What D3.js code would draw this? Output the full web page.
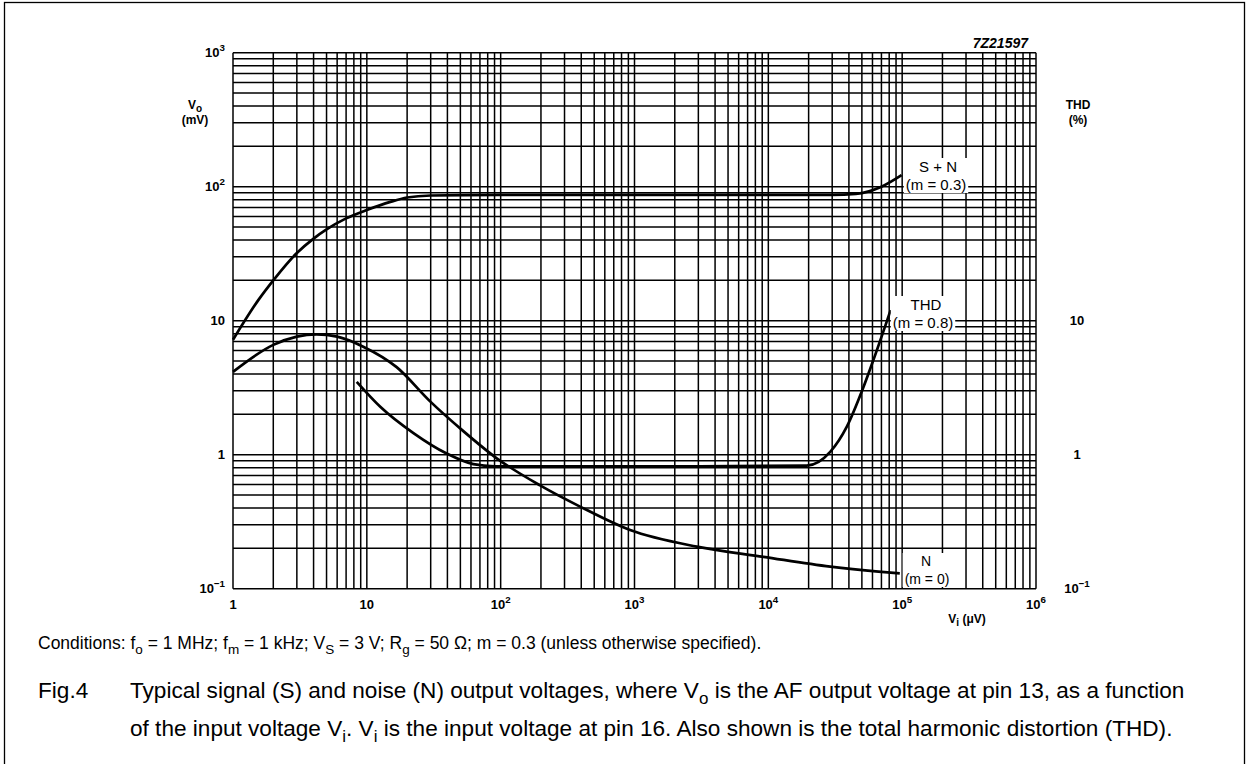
<!DOCTYPE html>
<html>
<head>
<meta charset="utf-8">
<script src="https://cdn.jsdelivr.net/npm/d3@7"></script>
<style>
  body { margin: 0; background: #fff; }
  svg text { font-family: "Liberation Sans", Arial, Helvetica, sans-serif; fill: #000; }
</style>
</head>
<body>
<script>
// axis ranges
const viDomain = [1, 1e6];
const voDomain = [0.1, 1000];

// tick labels: [base, exponent]
const xTickValues = [1, 10, 100, 1e3, 1e4, 1e5, 1e6];
const xTickLabels = [["1", ""], ["10", ""], ["10", "2"], ["10", "3"], ["10", "4"], ["10", "5"], ["10", "6"]];
const yTickValues = [0.1, 1, 10, 100, 1000];
const yTickLabels = [["10", "\u22121"], ["1", ""], ["10", ""], ["10", "2"], ["10", "3"]];
const thdTickValues = [0.1, 1, 10];
const thdTickLabels = [["10", "\u22121"], ["1", ""], ["10", ""]];

// curves: [Vi (uV), Vo (mV) or THD (%)]
const sPlusN = [
  [1, 7.2], [1.55, 14.3], [2, 20], [3, 32], [4, 41], [5, 48], [7, 58], [10, 67],
  [15, 77], [20, 83], [30, 86], [100, 87], [1000, 87], [1e4, 87], [3e4, 87],
  [45000, 88.5], [70000, 100], [99000, 122]
];
const noise = [
  [1, 4.15], [2, 6.6], [3, 7.6], [4.2, 7.9], [6, 7.6], [9.4, 6.4], [16.7, 4.5],
  [29.7, 2.5], [52.6, 1.5], [93.5, 0.94], [197, 0.59], [392, 0.41], [927, 0.274],
  [2920, 0.206], [9200, 0.173], [29000, 0.146], [66500, 0.134], [96000, 0.13]
];
const thd = [
  [8.4, 3.5], [12.6, 2.28], [22.3, 1.45], [39.5, 1.02], [62.5, 0.85], [90, 0.82],
  [300, 0.82], [3000, 0.82], [19400, 0.83], [29000, 1.05], [38600, 1.62],
  [51400, 3.2], [61000, 5.1], [82000, 12]
];

const curveLabels = [
  { lines: ["S + N", "(m = 0.3)"], at: [[938, 172], [936, 190]], size: 15 },
  { lines: ["THD", "(m = 0.8)"], at: [[926, 310], [923, 328]], size: 15 },
  { lines: ["N", "(m = 0)"], at: [[926, 566], [927, 584]], size: 14 }
];

const w = 1247;
const h = 764;
const mLeft = 233;
const mRight = 1036;
const mTop = 52.7;
const mBottom = 588.7;

const svg = d3
  .select("body")
  .append("svg")
  .attr("width", w)
  .attr("height", h);

// outer frame, runs off the bottom of the page
svg
  .append("rect")
  .attr("x", 4.5)
  .attr("y", 2.5)
  .attr("width", w - 7)
  .attr("height", h + 40)
  .attr("fill", "none")
  .attr("stroke", "#000")
  .attr("stroke-width", 1.3);

const xScale = d3.scaleLog().domain(viDomain).range([mLeft, mRight]);
const yScale = d3.scaleLog().domain(voDomain).range([mBottom, mTop]);

// log grid, 1..9 in every decade
const grid = svg.append("g").attr("stroke", "#000").attr("stroke-width", 1.5);

grid
  .selectAll("line.v")
  .data(xScale.ticks(40))
  .enter()
  .append("line")
  .attr("class", "v")
  .attr("x1", (d) => xScale(d))
  .attr("x2", (d) => xScale(d))
  .attr("y1", mTop)
  .attr("y2", mBottom);

grid
  .selectAll("line.h")
  .data(yScale.ticks(30))
  .enter()
  .append("line")
  .attr("class", "h")
  .attr("x1", mLeft)
  .attr("x2", mRight)
  .attr("y1", (d) => yScale(d))
  .attr("y2", (d) => yScale(d));

const powLabel = (sel, size) => {
  sel.append("tspan").text((d) => d[0]);
  sel
    .append("tspan")
    .attr("dy", -size * 0.45)
    .attr("font-size", size * 0.75)
    .text((d) => d[1]);
};

// x tick labels
svg
  .append("g")
  .selectAll("text")
  .data(xTickLabels)
  .enter()
  .append("text")
  .attr("x", (d, i) => xScale(xTickValues[i]))
  .attr("y", mBottom + 20)
  .attr("text-anchor", "middle")
  .attr("font-size", 13)
  .attr("font-weight", "bold")
  .call(powLabel, 13);

// left y tick labels
svg
  .append("g")
  .selectAll("text")
  .data(yTickLabels)
  .enter()
  .append("text")
  .attr("x", mLeft - 8)
  .attr("y", (d, i) => yScale(yTickValues[i]) + 4.5)
  .attr("text-anchor", "end")
  .attr("font-size", 13)
  .attr("font-weight", "bold")
  .call(powLabel, 13);

// right THD tick labels
svg
  .append("g")
  .selectAll("text")
  .data(thdTickLabels)
  .enter()
  .append("text")
  .attr("x", mRight + 41)
  .attr("y", (d, i) => yScale(thdTickValues[i]) + 4.5)
  .attr("text-anchor", "middle")
  .attr("font-size", 13)
  .attr("font-weight", "bold")
  .call(powLabel, 13);

// axis titles
const vo = svg
  .append("text")
  .attr("x", 195)
  .attr("y", 109)
  .attr("text-anchor", "middle")
  .attr("font-size", 12)
  .attr("font-weight", "bold");
vo.append("tspan").text("V");
vo.append("tspan").attr("font-size", 10).attr("dy", 3).text("o");
svg
  .append("text")
  .attr("x", 195)
  .attr("y", 124)
  .attr("text-anchor", "middle")
  .attr("font-size", 12)
  .attr("font-weight", "bold")
  .text("(mV)");

svg
  .append("text")
  .attr("x", mRight + 42)
  .attr("y", 109)
  .attr("text-anchor", "middle")
  .attr("font-size", 12)
  .attr("font-weight", "bold")
  .text("THD");
svg
  .append("text")
  .attr("x", mRight + 42)
  .attr("y", 124)
  .attr("text-anchor", "middle")
  .attr("font-size", 12)
  .attr("font-weight", "bold")
  .text("(%)");

const vi = svg
  .append("text")
  .attr("x", 967)
  .attr("y", 623)
  .attr("text-anchor", "middle")
  .attr("font-size", 12)
  .attr("font-weight", "bold");
vi.append("tspan").text("V");
vi.append("tspan").attr("font-size", 10).attr("dy", 3).text("i");
vi.append("tspan").attr("dy", -3).text(" (\u03bcV)");

svg
  .append("text")
  .attr("x", 1028)
  .attr("y", 48)
  .attr("text-anchor", "end")
  .attr("font-size", 14)
  .attr("font-weight", "bold")
  .attr("font-style", "italic")
  .text("7Z21597");

// curves
const line = d3
  .line()
  .x((d) => xScale(d[0]))
  .y((d) => yScale(d[1]))
  .curve(d3.curveMonotoneX);

svg
  .append("g")
  .selectAll("path")
  .data([sPlusN, noise, thd])
  .enter()
  .append("path")
  .attr("d", line)
  .attr("fill", "none")
  .attr("stroke", "#000")
  .attr("stroke-width", 2.7);

// curve labels on white patches
curveLabels.forEach((c) => {
  const g = svg.append("g");
  const t = g
    .append("text")
    .attr("text-anchor", "middle")
    .attr("font-size", c.size);
  c.lines.forEach((s, i) => {
    t.append("tspan")
      .attr("x", c.at[i][0])
      .attr("y", c.at[i][1])
      .text(s);
  });
  const bb = t.node().getBBox();
  g.insert("rect", "text")
    .attr("x", bb.x - 2)
    .attr("y", bb.y)
    .attr("width", bb.width + 4)
    .attr("height", Math.min(bb.height, mBottom - 1 - bb.y))
    .attr("fill", "#fff");
});

// conditions line
const cond = svg
  .append("text")
  .attr("x", 38)
  .attr("y", 649)
  .attr("font-size", 17.5);
const condParts = [
  ["Conditions: f", ""], ["o", "s"], [" = 1 MHz; f", ""], ["m", "s"],
  [" = 1 kHz; V", ""], ["S", "s"], [" = 3 V; R", ""], ["g", "s"],
  [" = 50 \u03a9; m = 0.3 (unless otherwise specified).", ""]
];
condParts.forEach(([s, k], i) => {
  const prev = i > 0 && condParts[i - 1][1] === "s";
  cond
    .append("tspan")
    .attr("dy", k === "s" ? 5 : prev ? -5 : 0)
    .attr("font-size", k === "s" ? 13.5 : 17.5)
    .text(s);
});

// caption
svg
  .append("text")
  .attr("x", 38)
  .attr("y", 698)
  .attr("font-size", 22.6)
  .text("Fig.4");

const cap1 = svg.append("text").attr("x", 130).attr("y", 698).attr("font-size", 22.6);
cap1.append("tspan").text("Typical signal (S) and noise (N) output voltages, where V");
cap1.append("tspan").attr("dy", 6).attr("font-size", 17).text("o");
cap1
  .append("tspan")
  .attr("dy", -6)
  .text(" is the AF output voltage at pin 13, as a function");

const cap2 = svg.append("text").attr("x", 130).attr("y", 736).attr("font-size", 22.6);
cap2.append("tspan").text("of the input voltage V");
cap2.append("tspan").attr("dy", 6).attr("font-size", 17).text("i");
cap2.append("tspan").attr("dy", -6).text(". V");
cap2.append("tspan").attr("dy", 6).attr("font-size", 17).text("i");
cap2
  .append("tspan")
  .attr("dy", -6)
  .text(" is the input voltage at pin 16. Also shown is the total harmonic distortion (THD).");
</script>
</body>
</html>
